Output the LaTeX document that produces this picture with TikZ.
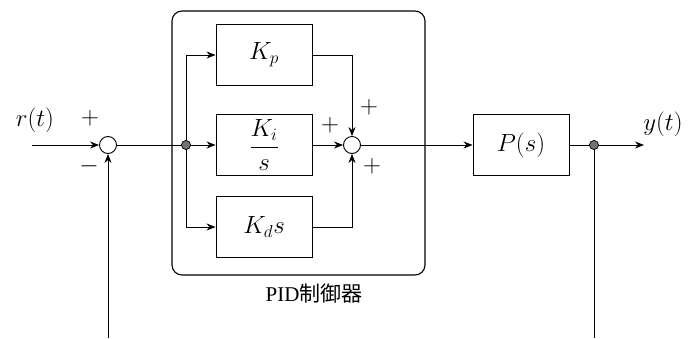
\documentclass[tikz,border=0pt]{standalone}
\usepackage{fontspec}
\newfontfamily\cjk{Noto Sans CJK JP}
\newfontfamily\lserif{Liberation Serif}
\usetikzlibrary{arrows.meta}
\tikzset{
  blk/.style={draw, line width=0.9pt, minimum width=96pt, minimum height=61pt, inner sep=0pt, font=\fontsize{24}{28}\selectfont},
  sumnode/.style={circle, draw, line width=0.9pt, minimum size=17pt, inner sep=0pt, fill=white},
  dotnode/.style={circle, draw, line width=0.6pt, fill=black!55, minimum size=9pt, inner sep=0pt},
  arr/.style={line width=0.9pt, -{Stealth[length=9pt,width=7pt]}},
  ln/.style={line width=0.9pt},
  lbl/.style={font=\fontsize{24}{27}\selectfont, inner sep=0pt},
  sgn/.style={font=\fontsize{24}{26}\selectfont, inner sep=0pt}
}
\begin{document}
\begin{tikzpicture}[x=1pt,y=-1pt]
\useasboundingbox (0,0) rectangle (694,338);
% outer PID box
\node[draw, line width=1.1pt, rounded corners=10pt, minimum width=253pt, minimum height=264pt, inner sep=0pt] (pid) at (298.5,143) {};
\node[font=\fontsize{21}{24}\selectfont, inner sep=0pt] (pidlbl) at (314,294) {{\lserif PID}{\cjk 制御器}};
% input
\coordinate (rin) at (32,145);
\node[lbl] (rt) at (35,120) {$r(t)$};
\node[sgn] (s1p) at (90,118) {$+$};
\node[sgn] (s1m) at (89,166) {$-$};
\node[sumnode] (s1) at (108,145) {};
\node[dotnode] (b1) at (186,145) {};
% blocks
\node[blk] (kp) at (264,55) {$K_p$};
\node[blk] (ki) at (264,145) {$\displaystyle\frac{K_i}{s}$};
\node[blk] (kd) at (264,227) {$K_d s$};
\node[sumnode] (s2) at (352,145) {};
\node[sgn] (s2a) at (369,107) {$+$};
\node[sgn] (s2b) at (330,125) {$+$};
\node[sgn] (s2c) at (372,166) {$+$};
\node[blk] (plant) at (521,145) {$P(s)$};
\node[dotnode] (b2) at (594,145) {};
\coordinate (yout) at (644,145);
\node[lbl] (yt) at (663,124) {$y(t)$};
\coordinate (fb1) at (108,338);
\coordinate (fb2) at (594,338);
% connectors
\draw[arr] (rin) -- (s1);
\draw[ln] (s1) -- (b1);
\draw[arr] (b1) -- (ki);
\draw[arr] (b1) |- (kp);
\draw[arr] (b1) |- (kd);
\draw[arr] (kp) -| (s2);
\draw[arr] (ki) -- (s2);
\draw[arr] (kd) -| (s2);
\draw[arr] (s2) -- (plant);
\draw[ln] (plant) -- (b2);
\draw[arr] (b2) -- (yout);
\draw[ln] (b2) -- (fb2);
\draw[arr] (fb1) -- (s1);
\node[dotnode] at (b1) {};
\node[dotnode] at (b2) {};
\end{tikzpicture}
\end{document}
